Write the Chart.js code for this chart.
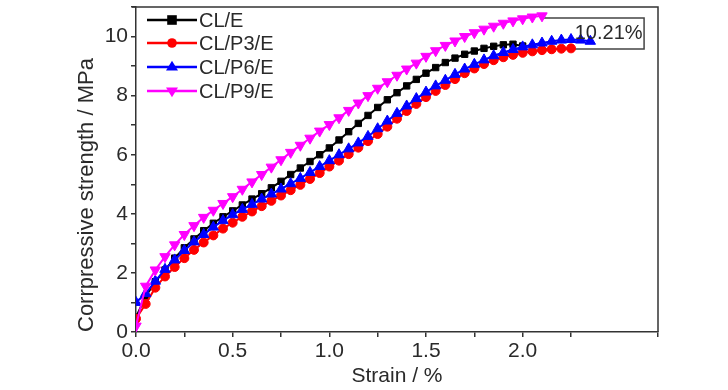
<!DOCTYPE html>
<html>
<head>
<meta charset="utf-8">
<script src="https://cdn.jsdelivr.net/npm/chart.js@4/dist/chart.umd.min.js"></script>
<style>
html,body{margin:0;padding:0;background:#fff;}
#wrap{width:728px;height:390px;position:relative;}
</style>
</head>
<body>
<div id="wrap"><canvas id="c" width="728" height="390"></canvas></div>
<script>
// ---- data ----
const strain = [0,0.05,0.1,0.15,0.2,0.25,0.3,0.35,0.4,0.45,0.5,0.55,0.6,0.65,0.7,0.75,0.8,0.85,0.9,0.95,1.0,
  1.05,1.1,1.15,1.2,1.25,1.3,1.35,1.4,1.45,1.5,1.55,1.6,1.65,1.7,1.75,1.8,1.85,1.9,1.95,2.0,
  2.05,2.1,2.15,2.2,2.25,2.3,2.35];
const seriesNames = ['CL/E','CL/P3/E','CL/P6/E','CL/P9/E'];
const clE = [0.5,1.2,1.7,2.1,2.5,2.85,3.15,3.43,3.68,3.9,4.1,4.3,4.5,4.68,4.88,5.1,5.33,5.55,5.77,6.0,6.23,
  6.5,6.78,7.06,7.33,7.6,7.86,8.1,8.33,8.55,8.76,8.95,9.12,9.27,9.4,9.51,9.6,9.67,9.72,9.74,9.68];
const clP3E = [0.45,0.95,1.5,1.88,2.2,2.5,2.78,3.03,3.27,3.5,3.7,3.9,4.08,4.26,4.44,4.62,4.8,4.98,5.18,5.38,5.6,
  5.8,6.02,6.24,6.46,6.7,6.95,7.22,7.48,7.72,7.95,8.16,8.36,8.56,8.76,8.92,9.07,9.2,9.3,9.38,9.45,
  9.5,9.54,9.57,9.59,9.6];
const clP6E = [1.0,1.3,1.72,2.12,2.44,2.76,3.05,3.3,3.55,3.77,3.97,4.15,4.32,4.5,4.67,4.84,5.02,5.2,5.4,5.6,5.8,
  6.0,6.2,6.4,6.62,6.88,7.14,7.4,7.65,7.9,8.12,8.33,8.52,8.72,8.9,9.06,9.21,9.35,9.46,9.56,9.65,
  9.72,9.78,9.84,9.88,9.9,9.88,9.84];
const clP9E = [0.2,1.55,2.1,2.55,2.95,3.3,3.6,3.88,4.12,4.35,4.58,4.83,5.08,5.33,5.58,5.83,6.08,6.32,6.56,6.8,7.02,
  7.25,7.5,7.75,8.0,8.25,8.47,8.69,8.9,9.1,9.33,9.52,9.7,9.85,10.0,10.13,10.25,10.35,10.45,10.53,10.6,
  10.66,10.7];
const annotationText = '10.21%';
const xTitle = 'Strain / %';
const yTitle = 'Corrpressive strength / MPa';

// ---- styling ----
const colors = ['#000000','#ff0000','#0000ff','#ff00ff'];
const styles = ['rect','circle','triangle','triangle'];
const rots = [0,0,0,180];
const radii = [4.5,4.5,6,6];
const drawOrder = [3,2,1,0];
const FONT = "'Liberation Sans',Arial,sans-serif";
const AX = '#333333';
const TXT = '#2a2a2a';

function pts(vals){ return vals.map((v,i)=>({x:strain[i], y:v})); }
const allVals = [clE, clP3E, clP6E, clP9E];

const datasets = allVals.map((vals,i)=>({
  label: seriesNames[i],
  data: pts(vals),
  borderColor: colors[i],
  backgroundColor: colors[i],
  pointBackgroundColor: colors[i],
  pointBorderColor: colors[i],
  pointStyle: styles[i],
  pointRotation: rots[i],
  pointRadius: radii[i],
  pointBorderWidth: 1,
  borderWidth: 2,
  tension: 0,
  fill: false,
  order: drawOrder[i]
}));

function marker(ctx, style, rot, r, x, y, col){
  ctx.save();
  ctx.fillStyle = col; ctx.strokeStyle = col;
  ctx.translate(x,y);
  ctx.rotate(rot*Math.PI/180);
  ctx.beginPath();
  if(style==='rect'){ ctx.rect(-r,-r,2*r,2*r); }
  else if(style==='circle'){ ctx.arc(0,0,r,0,Math.PI*2); }
  else { ctx.moveTo(0,-r); ctx.lineTo(r*0.95, r*0.55); ctx.lineTo(-r*0.95, r*0.55); ctx.closePath(); }
  ctx.fill();
  ctx.restore();
}

const framePlugin = {
  id:'frame',
  beforeDatasetsDraw(chart){
    const {ctx, chartArea:a, scales:{x,y}} = chart;
    ctx.save();
    ctx.strokeStyle = AX; ctx.lineWidth = 1.5;
    ctx.beginPath();
    ctx.moveTo(a.left-4, a.top); ctx.lineTo(a.right, a.top); ctx.lineTo(a.right, a.bottom);
    ctx.stroke();
    // annotation box (three sides)
    const x0 = x.getPixelForValue(2.09), x1 = x.getPixelForValue(2.628);
    const y0 = y.getPixelForValue(10.63), y1 = y.getPixelForValue(9.58);
    ctx.strokeStyle = '#444'; ctx.lineWidth = 1.5;
    ctx.beginPath();
    ctx.moveTo(x0,y0); ctx.lineTo(x1,y0); ctx.lineTo(x1,y1); ctx.lineTo(x0,y1);
    ctx.stroke();
    ctx.restore();
  },
  afterDraw(chart){
    const {ctx, scales:{x,y}} = chart;
    ctx.save();
    ctx.fillStyle = TXT;
    ctx.font = "20px " + FONT;
    ctx.textAlign = 'right'; ctx.textBaseline = 'middle';
    ctx.fillText(annotationText, x.getPixelForValue(2.62), y.getPixelForValue(10.1));
    // legend
    const rowsY = [20,43,67,91];
    for(let i=0;i<4;i++){
      const yy = rowsY[i];
      ctx.strokeStyle = colors[i]; ctx.lineWidth = 2.5;
      ctx.beginPath(); ctx.moveTo(147,yy); ctx.lineTo(197,yy); ctx.stroke();
      marker(ctx, styles[i], rots[i], radii[i]+0.3, 172, yy, colors[i]);
      ctx.fillStyle = TXT;
      ctx.font = "20px " + FONT;
      ctx.textAlign = 'left'; ctx.textBaseline = 'middle';
      ctx.fillText(seriesNames[i], 199, yy+1);
    }
    ctx.restore();
  }
};

new Chart(document.getElementById('c'), {
  type:'line',
  data:{datasets},
  plugins:[framePlugin],
  options:{
    responsive:false,
    animation:false,
    layout:{padding:{top:6,right:70,left:0,bottom:0}},
    plugins:{legend:{display:false}, tooltip:{enabled:false}},
    scales:{
      x:{
        type:'linear', min:0, max:2.7,
        afterFit(s){ s.height = 58; s.paddingLeft = 0; s.paddingRight = 0; },
        ticks:{
          stepSize:0.25, autoSkip:false, maxRotation:0, padding:2,
          color:TXT, font:{family:FONT, size:21},
          callback(v){ const r = Math.round(v*100); return (r % 50 === 0) ? (v).toFixed(1) : ''; }
        },
        grid:{display:true, drawOnChartArea:false, drawTicks:true, tickLength:5, color:AX, lineWidth:1.5},
        border:{display:true, color:AX, width:1.5},
        title:{display:true, text:xTitle, color:TXT, font:{family:FONT, size:21}, padding:{top:0,bottom:1}}
      },
      y:{
        type:'linear', min:0, max:11,
        afterFit(s){ s.width = 136; s.paddingTop = 0; s.paddingBottom = 0; },
        ticks:{
          stepSize:1, autoSkip:false, padding:3,
          color:TXT, font:{family:FONT, size:21},
          callback(v){ return (Math.round(v) % 2 === 0) ? String(Math.round(v)) : ''; }
        },
        grid:{display:true, drawOnChartArea:false, drawTicks:true, tickLength:5, color:AX, lineWidth:1.5},
        border:{display:true, color:AX, width:1.5},
        title:{display:true, text:yTitle, align:'start', color:TXT, font:{family:FONT, size:22}, padding:{top:74,bottom:0}}
      }
    }
  }
});
</script>
</body>
</html>
